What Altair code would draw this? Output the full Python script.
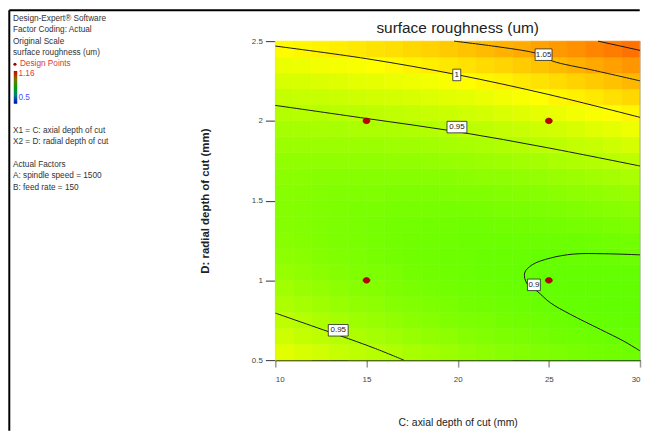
import altair as alt
import pandas as pd

FONT = "Liberation Sans, Arial, sans-serif"

# ---------------- data ----------------
# response surface, cell centres (C: axial depth, D: radial depth)
x_centers = [10.5, 11.5, 12.5, 13.5, 14.5, 15.5, 16.5, 17.5, 18.5, 19.5,
             20.5, 21.5, 22.5, 23.5, 24.5, 25.5, 26.5, 27.5, 28.5, 29.5]
y_centers = [0.55, 0.65, 0.75, 0.85, 0.95, 1.05, 1.15, 1.25, 1.35, 1.45,
             1.55, 1.65, 1.75, 1.85, 1.95, 2.05, 2.15, 2.25, 2.35, 2.45]
# one row per y centre, bottom to top
z_rows = [
    [0.976, 0.970, 0.964, 0.958, 0.953, 0.948, 0.943, 0.938, 0.934, 0.930, 0.926, 0.922, 0.918, 0.915, 0.912, 0.910, 0.907, 0.905, 0.903, 0.901],
    [0.963, 0.957, 0.952, 0.947, 0.942, 0.937, 0.933, 0.928, 0.924, 0.921, 0.917, 0.914, 0.911, 0.908, 0.906, 0.903, 0.901, 0.900, 0.898, 0.897],
    [0.952, 0.947, 0.942, 0.937, 0.932, 0.928, 0.924, 0.920, 0.917, 0.913, 0.910, 0.908, 0.905, 0.903, 0.901, 0.899, 0.897, 0.896, 0.895, 0.894],
    [0.942, 0.937, 0.933, 0.928, 0.924, 0.921, 0.917, 0.914, 0.911, 0.908, 0.905, 0.903, 0.901, 0.899, 0.897, 0.896, 0.895, 0.894, 0.893, 0.893],
    [0.934, 0.929, 0.925, 0.922, 0.918, 0.915, 0.911, 0.909, 0.906, 0.904, 0.902, 0.900, 0.898, 0.897, 0.895, 0.895, 0.894, 0.894, 0.893, 0.893],
    [0.927, 0.923, 0.920, 0.916, 0.913, 0.910, 0.908, 0.905, 0.903, 0.901, 0.899, 0.898, 0.897, 0.896, 0.895, 0.895, 0.895, 0.895, 0.895, 0.895],
    [0.922, 0.919, 0.915, 0.912, 0.910, 0.907, 0.905, 0.903, 0.902, 0.900, 0.899, 0.898, 0.897, 0.897, 0.896, 0.896, 0.897, 0.897, 0.898, 0.899],
    [0.918, 0.915, 0.913, 0.910, 0.908, 0.906, 0.904, 0.903, 0.902, 0.901, 0.900, 0.899, 0.899, 0.899, 0.899, 0.900, 0.900, 0.901, 0.903, 0.904],
    [0.916, 0.914, 0.912, 0.910, 0.908, 0.906, 0.905, 0.904, 0.903, 0.903, 0.902, 0.902, 0.903, 0.903, 0.904, 0.905, 0.906, 0.907, 0.909, 0.911],
    [0.916, 0.914, 0.912, 0.911, 0.909, 0.908, 0.907, 0.907, 0.907, 0.906, 0.907, 0.907, 0.908, 0.909, 0.910, 0.911, 0.913, 0.915, 0.917, 0.919],
    [0.917, 0.916, 0.914, 0.913, 0.912, 0.912, 0.911, 0.911, 0.911, 0.912, 0.912, 0.913, 0.914, 0.916, 0.917, 0.919, 0.921, 0.923, 0.926, 0.929],
    [0.920, 0.919, 0.918, 0.917, 0.917, 0.917, 0.917, 0.917, 0.918, 0.918, 0.920, 0.921, 0.922, 0.924, 0.926, 0.929, 0.931, 0.934, 0.937, 0.940],
    [0.924, 0.923, 0.923, 0.923, 0.923, 0.923, 0.924, 0.924, 0.926, 0.927, 0.928, 0.930, 0.932, 0.934, 0.937, 0.940, 0.943, 0.946, 0.949, 0.953],
    [0.930, 0.930, 0.930, 0.930, 0.930, 0.931, 0.932, 0.933, 0.935, 0.937, 0.939, 0.941, 0.943, 0.946, 0.949, 0.952, 0.956, 0.959, 0.963, 0.968],
    [0.937, 0.937, 0.938, 0.939, 0.940, 0.941, 0.942, 0.944, 0.946, 0.948, 0.951, 0.953, 0.956, 0.959, 0.963, 0.966, 0.970, 0.975, 0.979, 0.984],
    [0.946, 0.947, 0.948, 0.949, 0.950, 0.952, 0.954, 0.956, 0.959, 0.961, 0.964, 0.967, 0.971, 0.974, 0.978, 0.982, 0.987, 0.991, 0.996, 1.001],
    [0.957, 0.958, 0.959, 0.961, 0.963, 0.965, 0.967, 0.970, 0.973, 0.976, 0.979, 0.983, 0.987, 0.991, 0.995, 1.000, 1.004, 1.009, 1.015, 1.020],
    [0.969, 0.970, 0.972, 0.974, 0.977, 0.979, 0.982, 0.985, 0.988, 0.992, 0.996, 1.000, 1.004, 1.009, 1.013, 1.018, 1.024, 1.029, 1.035, 1.041],
    [0.982, 0.984, 0.987, 0.989, 0.992, 0.995, 0.998, 1.002, 1.006, 1.010, 1.014, 1.018, 1.023, 1.028, 1.033, 1.039, 1.045, 1.051, 1.057, 1.063],
    [0.997, 1.000, 1.003, 1.006, 1.009, 1.013, 1.016, 1.020, 1.024, 1.029, 1.034, 1.039, 1.044, 1.049, 1.055, 1.061, 1.067, 1.074, 1.080, 1.087],
]

# contour lines
c110_x = [27.7, 30.0]
c110_y = [2.500, 2.442]
c105_x = [19.8, 22.0, 24.2, 24.7, 25.2, 27.5, 30.0]
c105_y = [2.500, 2.468, 2.427, 2.405, 2.375, 2.316, 2.251]
c100_x = [10.0, 15.0, 19.95, 25.0, 30.0]
c100_y = [2.469, 2.390, 2.290, 2.165, 2.022]
c095u_x = [10.0, 15.0, 20.0, 25.0, 30.0]
c095u_y = [2.097, 2.015, 1.932, 1.830, 1.717]
c095l_x = [10.0, 12.0, 14.0, 15.5, 17.05]
c095l_y = [0.795, 0.715, 0.635, 0.572, 0.500]
c090_x = [30.0, 28.0, 26.36, 25.09, 24.09, 23.67, 23.8, 24.36, 25.09, 26.18, 27.82, 29.09, 30.0]
c090_y = [1.160, 1.167, 1.165, 1.140, 1.098, 1.046, 0.980, 0.932, 0.859, 0.787, 0.693, 0.620, 0.558]

# contour labels
lab_text = ["1.05", "1", "0.95", "0.95", "0.9"]
lab_x = [24.71, 19.95, 19.96, 13.45, 24.18]
lab_y = [2.415, 2.288, 1.961, 0.687, 0.972]

# design points
pt_x = [15, 25, 15, 25]
pt_y = [2, 2, 1, 1]

# ---------------- tables ----------------
dx = x_centers[1] - x_centers[0]
dy = y_centers[1] - y_centers[0]
cells = []
for yi, yc in enumerate(y_centers):
    for xi, xc in enumerate(x_centers):
        cells.append({"x0": xc - dx / 2, "x1": xc + dx / 2,
                      "y0": yc - dy / 2, "y1": yc + dy / 2,
                      "z": z_rows[yi][xi]})
cells = pd.DataFrame(cells)

lines = []
for cid, (xs, ys) in enumerate([(c110_x, c110_y), (c105_x, c105_y), (c100_x, c100_y),
                                 (c095u_x, c095u_y), (c095l_x, c095l_y), (c090_x, c090_y)]):
    for k, (a, b) in enumerate(zip(xs, ys)):
        lines.append({"x": a, "y": b, "cid": cid, "ord": k})
lines = pd.DataFrame(lines)

labels = pd.DataFrame({"x": lab_x, "y": lab_y, "t": lab_text})
points = pd.DataFrame({"x": pt_x, "y": pt_y})

# ---------------- chart ----------------
xscale = alt.Scale(domain=[10, 30], nice=False, zero=False)
yscale = alt.Scale(domain=[0.5, 2.5], nice=False, zero=False)
cscale = alt.Scale(domain=[0.5, 0.665, 0.83, 0.995, 1.16],
                   range=["#0000ff", "#00ffff", "#00ff00", "#ffff00", "#ff0000"],
                   interpolate="rgb")

xaxis = alt.Axis(values=[10, 15, 20, 25, 30], grid=False, tickColor="#999", tickWidth=1.5,
                 tickSize=7, labelFontSize=8, labelFont=FONT, labelColor="#444",
                 labelPadding=9, domainColor="#000", domainWidth=1.5,
                 title="C: axial depth of cut (mm)", titleFontSize=10.5, titleFont=FONT,
                 titleFontWeight="normal", titleColor="#222", titlePadding=34)
yaxis = alt.Axis(values=[0.5, 1, 1.5, 2, 2.5], format="~g", grid=False, tickColor="#333",
                 tickWidth=1, tickSize=10, labelFontSize=8, labelFont=FONT,
                 labelColor="#444", labelPadding=3, domainColor="#aaa", domainWidth=1,
                 title="D: radial depth of cut (mm)", titleFontSize=11.5, titleFont=FONT,
                 titleFontWeight="bold", titleColor="#222", titlePadding=41)

heat = alt.Chart(cells).mark_rect(strokeWidth=0.6).encode(
    x=alt.X("x0:Q", scale=xscale, axis=xaxis),
    x2="x1:Q",
    y=alt.Y("y0:Q", scale=yscale, axis=yaxis),
    y2="y1:Q",
    color=alt.Color("z:Q", scale=cscale, legend=None),
    stroke=alt.Stroke("z:Q", scale=cscale, legend=None),
)

right_edge = alt.Chart(pd.DataFrame({"v": [30]})).mark_rule(color="#aaa", strokeWidth=1).encode(
    x=alt.X("v:Q", scale=xscale))

contours = alt.Chart(lines).mark_line(color="#1a1a1a", strokeWidth=1, interpolate="catmull-rom").encode(
    x=alt.X("x:Q", scale=xscale), y=alt.Y("y:Q", scale=yscale),
    detail="cid:N", order="ord:Q")

box_paths = {"1.05": "M-0.425,-0.29H0.425V0.29H-0.425Z",
             "1": "M-0.2,-0.29H0.2V0.29H-0.2Z",
             "0.95": "M-0.5,-0.29H0.5V0.29H-0.5Z",
             "0.9": "M-0.325,-0.29H0.325V0.29H-0.325Z"}
boxes = alt.Chart(labels).mark_point(filled=True, fill="white", stroke="#222",
                                     strokeWidth=0.8, size=1600, opacity=1).encode(
    x=alt.X("x:Q", scale=xscale), y=alt.Y("y:Q", scale=yscale),
    shape=alt.Shape("t:N", scale=alt.Scale(domain=list(box_paths.keys()),
                                           range=list(box_paths.values())), legend=None))
btext = alt.Chart(labels).mark_text(font=FONT, fontSize=8, color="#222", baseline="middle").encode(
    x=alt.X("x:Q", scale=xscale), y=alt.Y("y:Q", scale=yscale), text="t:N")

ellipse = "M-1,0A1,0.8 0 1,0 1,0A1,0.8 0 1,0 -1,0Z"
dots = alt.Chart(points).mark_point(shape=ellipse, size=49, filled=True, fill="#c00000",
                                    stroke="#700000", strokeWidth=0.6, opacity=1).encode(
    x=alt.X("x:Q", scale=xscale), y=alt.Y("y:Q", scale=yscale))

one = alt.Data(values=[{"a": 1}])

# chart title as a text mark centred over the plot
title = alt.Chart(one).mark_text(text="surface roughness (um)", font=FONT, fontSize=15.5,
                                 color="#222", align="center", baseline="alphabetic").encode(
    x=alt.value(183.5), y=alt.value(-8))

# page frame (left and top edges)
frame_top = alt.Chart(one).mark_rule(color="#000", strokeWidth=2).encode(
    x=alt.value(-267.7), x2=alt.value(366.7), y=alt.value(-31), y2=alt.value(-31))
frame_left = alt.Chart(one).mark_rule(color="#000", strokeWidth=2).encode(
    x=alt.value(-267.7), x2=alt.value(-267.7), y=alt.value(-31), y2=alt.value(392))

panel_lines = [
    ("Design-Expert\u00ae Software", -264, -22.7, "#333"),
    ("Factor Coding: Actual", -264, -11, "#333"),
    ("Original Scale", -264, 0.7, "#333"),
    ("surface roughness (um)", -264, 12.3, "#333"),
    ("Design Points", -257, 23.3, "#d83a3a"),
    ("1.16", -258.5, 33.5, "#e03a3a"),
    ("0.5", -258.5, 57.5, "#5050ff"),
    ("X1 = C: axial depth of cut", -264, 90, "#333"),
    ("X2 = D: radial depth of cut", -264, 101.7, "#333"),
    ("Actual Factors", -264, 124.7, "#333"),
    ("A: spindle speed = 1500", -264, 136, "#333"),
    ("B: feed rate = 150", -264, 147.7, "#333"),
]
panel = []
for txt, px, py, col in panel_lines:
    panel.append(alt.Chart(one).mark_text(text=txt, font=FONT, fontSize=8.3, color=col,
                                          align="left", baseline="middle").encode(
        x=alt.value(px), y=alt.value(py)))

legend_dot = alt.Chart(one).mark_point(shape="circle", size=10, filled=True, fill="#a00000",
                                       opacity=1).encode(x=alt.value(-262), y=alt.value(23.3))
bar = alt.Chart(one).mark_rect(fill={
    "gradient": "linear", "x1": 0, "y1": 1, "x2": 0, "y2": 0,
    "stops": [{"offset": 0, "color": "#0000cc"}, {"offset": 0.25, "color": "#008080"},
              {"offset": 0.5, "color": "#00a000"}, {"offset": 0.75, "color": "#807000"},
              {"offset": 1, "color": "#d00000"}]}).encode(
    x=alt.value(-263.2), x2=alt.value(-259.7), y=alt.value(30), y2=alt.value(63))

chart = alt.layer(heat, right_edge, contours, boxes, btext, dots, title,
                  frame_top, frame_left, legend_dot, bar, *panel).properties(
    width=367, height=321,
    padding={"left": 0, "top": 0, "right": 2, "bottom": 0},
    background="white",
).configure_view(stroke=None)

chart.save("out.html", embed_options={"renderer": "svg", "actions": False})
